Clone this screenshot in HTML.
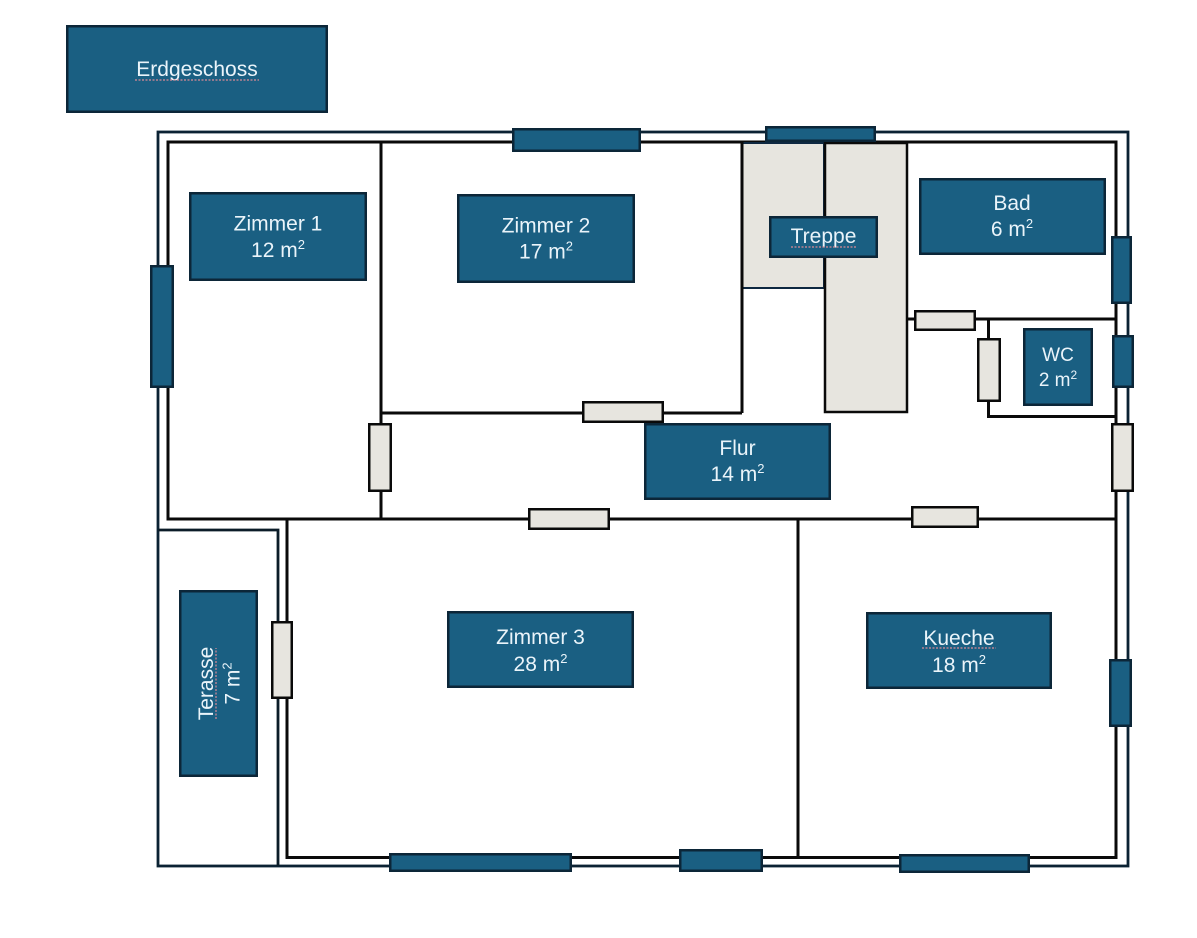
<!DOCTYPE html>
<html>
<head>
<meta charset="utf-8">
<style>
  html,body{margin:0;padding:0;background:#ffffff;}
  svg{display:block;}
  text{font-family:"Liberation Sans", Arial, sans-serif;fill:#eaf4fa;}
</style>
</head>
<body>
<svg width="1197" height="938" viewBox="0 0 1197 938" xmlns="http://www.w3.org/2000/svg">
  <rect x="0" y="0" width="1197" height="938" fill="#ffffff"/>

  <!-- Outer wall -->
  <rect x="158" y="132" width="970" height="734" fill="none" stroke="#0b2233" stroke-width="2.8"/>

  <!-- Inner wall outline -->
  <path d="M168,142 H1116 V857.5 H287 V519 H168 Z" fill="none" stroke="#0a0a0a" stroke-width="3"/>

  <!-- Terrace -->
  <path d="M158,530 H278 V866" fill="none" stroke="#0b1c28" stroke-width="2.8"/>

  <!-- Interior walls -->
  <g fill="none" stroke="#0a0a0a" stroke-width="3">
    <path d="M381,142 V519"/>
    <path d="M381,413 H742"/>
    <path d="M742,142 V413"/>
    <path d="M168,519 H1116"/>
    <path d="M798,519 V857.5"/>
    <path d="M907,319 H1116"/>
    <path d="M988.5,319 V416.5 H1116"/>
  </g>

  <!-- Treppe (stairs) -->
  <rect x="742" y="143" width="82" height="145" fill="#e7e5df" stroke="#0e2841" stroke-width="2"/>
  <rect x="825" y="143" width="82" height="269" fill="#e7e5df" stroke="#0a0a0a" stroke-width="2.5"/>
  <path d="M742,142 V413" fill="none" stroke="#0a0a0a" stroke-width="3"/>

  <!-- Windows -->
  <g fill="#1a5f82" stroke="#0c2638" stroke-width="2.5">
    <rect x="151.25" y="266.25" width="21.5" height="120.5"/>
    <rect x="513.25" y="129.25" width="126.5" height="21.5"/>
    <rect x="766.25" y="127.25" width="108.5" height="13.5"/>
    <rect x="1112.25" y="237.25" width="18.5" height="65.5"/>
    <rect x="1113.25" y="336.25" width="19.5" height="50.5"/>
    <rect x="1110.25" y="660.25" width="20.5" height="65.5"/>
    <rect x="390.25" y="854.25" width="180.5" height="16.5"/>
    <rect x="680.25" y="850.25" width="81.5" height="20.5"/>
    <rect x="900.25" y="855.25" width="128.5" height="16.5"/>
  </g>

  <!-- Doors -->
  <g fill="#e7e5df" stroke="#0a0a0a" stroke-width="2.5">
    <rect x="583.25" y="402.25" width="79.5" height="19.5"/>
    <rect x="369.25" y="424.25" width="21.5" height="66.5"/>
    <rect x="529.25" y="509.25" width="79.5" height="19.5"/>
    <rect x="912.25" y="507.25" width="65.5" height="19.5"/>
    <rect x="1112.25" y="424.25" width="20.5" height="66.5"/>
    <rect x="915.25" y="311.25" width="59.5" height="18.5"/>
    <rect x="978.25" y="339.25" width="21.5" height="61.5"/>
    <rect x="272.25" y="622.25" width="19.5" height="75.5"/>
  </g>

  <!-- Labels -->
  <g fill="#1a5f82" stroke="#0c2638" stroke-width="2.5">
    <rect x="67.25" y="26.25" width="259.5" height="85.5"/>
    <rect x="190.25" y="193.25" width="175.5" height="86.5"/>
    <rect x="458.25" y="195.25" width="175.5" height="86.5"/>
    <rect x="770.25" y="217.25" width="106.5" height="39.5"/>
    <rect x="920.25" y="179.25" width="184.5" height="74.5"/>
    <rect x="1024.25" y="329.25" width="67.5" height="75.5"/>
    <rect x="645.25" y="424.25" width="184.5" height="74.5"/>
    <rect x="448.25" y="612.25" width="184.5" height="74.5"/>
    <rect x="867.25" y="613.25" width="183.5" height="74.5"/>
    <rect x="180.25" y="591.25" width="76.5" height="184.5"/>
  </g>

  <g font-size="21" text-anchor="middle">
    <text x="197" y="76">Erdgeschoss</text>
    <text x="278" y="230.5">Zimmer 1</text>
    <text x="278" y="257">12 m<tspan font-size="13" dy="-8">2</tspan></text>
    <text x="546" y="232.5">Zimmer 2</text>
    <text x="546" y="258.5">17 m<tspan font-size="13" dy="-8">2</tspan></text>
    <text x="823.5" y="243">Treppe</text>
    <text x="1012" y="210">Bad</text>
    <text x="1012" y="236">6 m<tspan font-size="13" dy="-8">2</tspan></text>
    <text x="1058" y="361" font-size="19">WC</text>
    <text x="1058" y="386" font-size="19">2 m<tspan font-size="12" dy="-7">2</tspan></text>
    <text x="737.5" y="455">Flur</text>
    <text x="737.5" y="481">14 m<tspan font-size="13" dy="-8">2</tspan></text>
    <text x="540.5" y="644">Zimmer 3</text>
    <text x="540.5" y="671">28 m<tspan font-size="13" dy="-8">2</tspan></text>
    <text x="959" y="645">Kueche</text>
    <text x="959" y="672">18 m<tspan font-size="13" dy="-8">2</tspan></text>
    <g transform="translate(218.5,683.5) rotate(-90)">
      <text x="0" y="-5.5">Terasse</text>
      <text x="0" y="21">7 m<tspan font-size="13" dy="-8">2</tspan></text>
    </g>
  </g>

  <!-- spell-check squiggles -->
  <g fill="none" stroke="#d98a96" stroke-width="1.2" stroke-dasharray="2,1.5">
    <path d="M135,80 H259"/>
    <path d="M791,247 H856"/>
    <path d="M922,648 H996"/>
    <path d="M216,719 V648"/>
  </g>
</svg>
</body>
</html>
